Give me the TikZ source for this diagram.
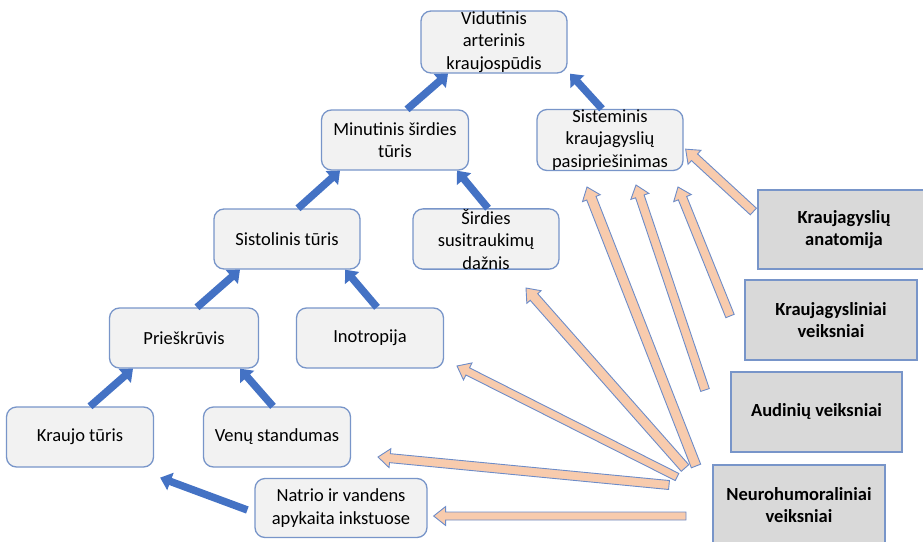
\documentclass[tikz,border=0pt]{standalone}
\usepackage{fontspec}
\setmainfont{Carlito}
\usetikzlibrary{arrows.meta,calc}
\definecolor{nodefill}{HTML}{F2F2F2}
\definecolor{nodeline}{HTML}{7895C9}
\definecolor{arrowblue}{HTML}{4472C4}
\definecolor{peach}{HTML}{F8CBAD}
\definecolor{peachline}{HTML}{6D8CC8}
\definecolor{grayfill}{HTML}{D9D9D9}
% block arrow: #1 half shaft width, #2 tail, #3 tip
\newcommand{\pkarrow}[3][4.5pt]{%
  \coordinate (pkb) at ($(#3)!12pt!(#2)$);
  \filldraw[peacharrow]
    ($(#2)!#1!90:(#3)$) -- ($(pkb)!#1!90:(#3)$) -- ($(pkb)!9.5pt!90:(#3)$) -- (#3)
    -- ($(pkb)!9.5pt!-90:(#3)$) -- ($(pkb)!#1!-90:(#3)$) -- ($(#2)!#1!-90:(#3)$) -- cycle;
}
\begin{document}
\begin{tikzpicture}[x=1pt,y=-1pt,
  box/.style={draw=nodeline, fill=nodefill, line width=1.3pt, rounded corners=10pt,
    align=center, inner sep=0pt, minimum width=146pt, minimum height=60pt,
    font=\fontsize{18.5}{22.5}\selectfont},
  factor/.style={draw=nodeline, fill=grayfill, line width=1.3pt, align=center,
    inner sep=0pt, minimum width=172pt, minimum height=80pt,
    font=\fontsize{18.5}{22.5}\selectfont\bfseries},
  bluearrow/.style={draw=arrowblue, line width=7.5pt, -{Triangle[width=18pt,length=11pt]}},
  peacharrow/.style={fill=peach, draw=peachline, line width=0.9pt, line join=miter}]
\useasboundingbox (0,0) rectangle (923,541);
\clip (0,0) rectangle (923,541);

% tree nodes
\node[box, minimum height=62pt] (vak) at (494,42) {Vidutinis\\arterinis\\kraujospūdis};
\node[box, minimum width=147pt] (min) at (395,140) {Minutinis širdies\\tūris};
\node[box, minimum height=61pt] (sis) at (610,140) {Sisteminis\\kraujagyslių\\pasipriešinimas};
\node[box] (sst) at (287,239) {Sistolinis tūris};
\node[box] (hr) at (486,239) {Širdies\\susitraukimų\\dažnis};
\node[box, minimum width=149pt] (pre) at (184,338) {Prieškrūvis};
\node[box, minimum width=147pt] (ino) at (370,338) {Inotropija};
\node[box, minimum width=147pt] (kt) at (80,437) {Kraujo tūris};
\node[box, minimum width=147pt] (ven) at (277,437) {Venų standumas};
\node[box, minimum width=172pt, minimum height=59pt] (na) at (341,508) {Natrio ir vandens\\apykaita inkstuose};

% factor boxes
\node[factor, minimum height=79pt] (ana) at (844,229.5) {Kraujagyslių\\anatomija};
\node[factor] (kv) at (831,320) {Kraujagysliniai\\veiksniai};
\node[factor, minimum width=171pt] (aud) at (816.5,412) {Audinių veiksniai};
\node[factor] (neu) at (799,505) {Neurohumoraliniai\\veiksniai};

% blue arrows
\draw[bluearrow] ([xshift=12pt]min.north) -- ([xshift=-46pt]vak.south);
\draw[bluearrow] ([xshift=-8pt]sis.north) -- ([xshift=76pt]vak.south);
\draw[bluearrow] ([xshift=11pt]sst.north) -- ([xshift=-55pt]min.south);
\draw[bluearrow] ([xshift=2pt]hr.north) -- ([xshift=62pt]min.south);
\draw[bluearrow] ([xshift=13pt]pre.north) -- ([xshift=-47pt]sst.south);
\draw[bluearrow] ([xshift=7pt]ino.north) -- ([xshift=58pt]sst.south);
\draw[bluearrow] ([xshift=10pt]kt.north) -- ([xshift=-51pt]pre.south);
\draw[bluearrow] ([xshift=-4pt]ven.north) -- ([xshift=56pt]pre.south);
\draw[bluearrow] ([xshift=-7pt,yshift=-2pt]na.west) -- ([xshift=6pt,yshift=-10pt]kt.south east);

% peach arrows
\coordinate (p1s) at ([xshift=-4pt,yshift=18pt]ana.west);
\coordinate (p1e) at ([xshift=2pt,yshift=22pt]sis.south east);
\coordinate (p2s) at (730,316); \coordinate (p2e) at (678,187);
\coordinate (p3s) at (705,390); \coordinate (p3e) at (636,185);
\coordinate (p4s) at (696,466); \coordinate (p4e) at (587,187);
\coordinate (p5s) at (685,468); \coordinate (p5e) at (526,288);
\coordinate (p6s) at (677,477); \coordinate (p6e) at (457,366);
\coordinate (p7s) at (669,485); \coordinate (p7e) at (378,457);
\coordinate (p8s) at (686,516); \coordinate (p8e) at ([xshift=6pt,yshift=-8pt]na.east);
\pkarrow{p1s}{p1e}
\pkarrow{p2s}{p2e}
\pkarrow{p3s}{p3e}
\pkarrow[5pt]{p4s}{p4e}
\pkarrow[5pt]{p5s}{p5e}
\pkarrow[4pt]{p6s}{p6e}
\pkarrow{p7s}{p7e}
\pkarrow[4pt]{p8s}{p8e}
\end{tikzpicture}
\end{document}
